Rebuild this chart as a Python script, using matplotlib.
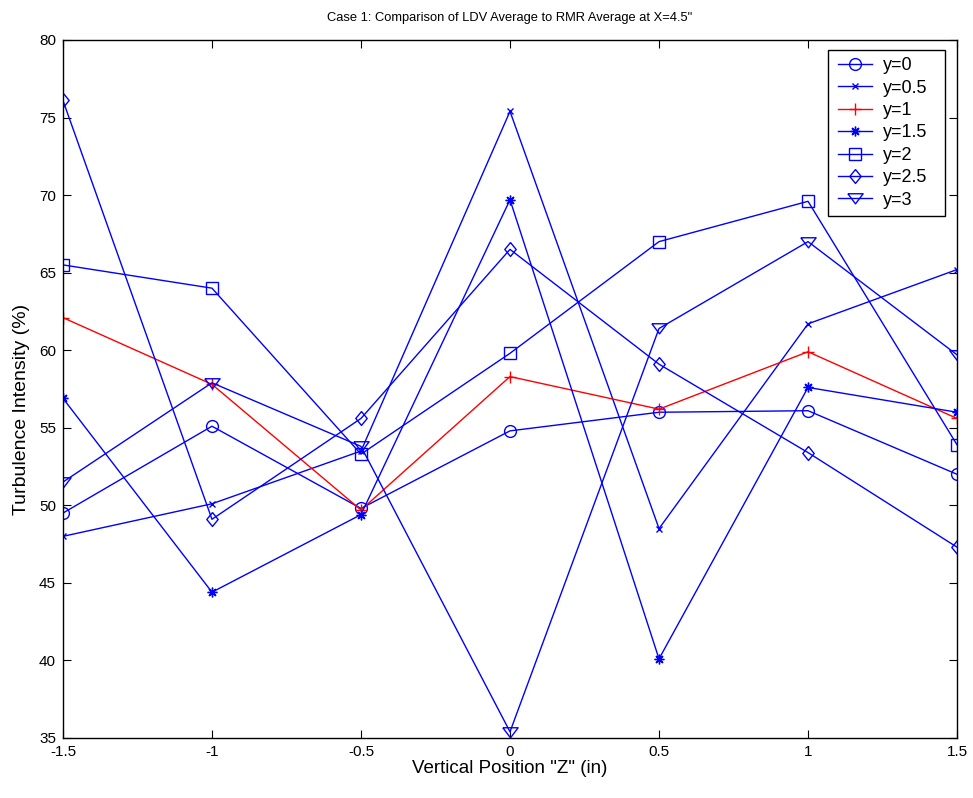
import matplotlib
matplotlib.use("Agg")
import matplotlib.pyplot as plt
from matplotlib.path import Path

plt.rcParams['font.family'] = ['Liberation Sans', 'DejaVu Sans']

z = [-1.5, -1, -0.5, 0, 0.5, 1, 1.5]
labels = ["y=0", "y=0.5", "y=1", "y=1.5", "y=2", "y=2.5", "y=3"]
y0 = [49.5, 55.1, 49.8, 54.8, 56.0, 56.1, 52.0]
y05 = [48.0, 50.1, 53.5, 75.4, 48.5, 61.7, 65.2]
y1 = [62.1, 57.8, 49.7, 58.3, 56.2, 59.9, 55.6]
y15 = [56.9, 44.4, 49.4, 69.7, 40.1, 57.6, 56.0]
y2 = [65.5, 64.0, 53.3, 59.8, 67.0, 69.6, 53.9]
y25 = [76.1, 49.1, 55.6, 66.5, 59.1, 53.4, 47.3]
y3 = [51.5, 57.9, 53.8, 35.4, 61.4, 67.0, 59.7]
series = [y0, y05, y1, y15, y2, y25, y3]
tri_down = [(-1, 0.62), (1, 0.62), (0, -0.7), (-1, 0.62)]
diamond = [(0, 1), (0.82, 0), (0, -1), (-0.82, 0), (0, 1)]
markers = ['o', 'x', '+', (8, 2, 0), 's', diamond, tri_down]
colors = ['#0000ff', '#0000ff', '#ff0000', '#0000ff', '#0000ff', '#0000ff', '#0000ff']
msizes = [8.5, 4.5, 8, 7, 8.5, 10, 11]

fig = plt.figure(figsize=(9.73, 7.98), dpi=100)
ax = fig.add_axes([0.0647, 0.0752, 0.9189, 0.8747])

for vals, lab, m, c, ms in zip(series, labels, markers, colors, msizes):
    ax.plot(z, vals, color=c, marker=m, markersize=ms, markerfacecolor='none',
            markeredgecolor=c, markeredgewidth=1.0, linewidth=1.0, label=lab)

ax.set_xlim(-1.5, 1.5)
ax.set_ylim(35, 80)
ax.set_xticks([-1.5, -1, -0.5, 0, 0.5, 1, 1.5])
ax.set_xticklabels(['-1.5', '-1', '-0.5', '0', '0.5', '1', '1.5'])
ax.set_yticks(range(35, 81, 5))
ax.tick_params(direction='in', top=True, right=True, labelsize=11, length=6, pad=5)
for s in ax.spines.values():
    s.set_linewidth(1.0)
ax.set_title('Case 1: Comparison of LDV Average to RMR Average at X=4.5"', fontsize=9.3, pad=14)
ax.set_xlabel('Vertical Position "Z" (in)', fontsize=13.5, labelpad=1)
ax.set_ylabel('Turbulence Intensity (%)', fontsize=14)
ax.yaxis.set_label_coords(-0.037, 0.47)


def legend_box(x0, y0, width, height, mutation_size):
    l = x0 - 3
    r = x0 + width + 10
    return Path([(l, y0), (r, y0), (r, y0 + height), (l, y0 + height), (l, y0)], closed=True)


leg = ax.legend(loc='upper right', bbox_to_anchor=(0.9754, 0.9857), borderaxespad=0,
                fontsize=13, frameon=True, fancybox=False,
                edgecolor='black', framealpha=1, handlelength=1.9,
                labelspacing=0.3, handletextpad=0.6, borderpad=0.4)
leg.get_frame().set_linewidth(1.0)
leg.get_frame().set_boxstyle(legend_box)

fig.savefig('out.png', dpi=100)
